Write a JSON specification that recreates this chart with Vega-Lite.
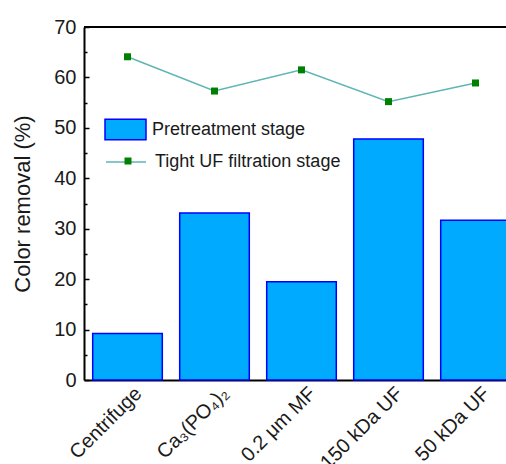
{
  "$schema": "https://vega.github.io/schema/vega-lite/v6.json",
  "width": 422,
  "height": 353,
  "autosize": "none",
  "padding": {"left": 84, "top": 27, "right": 0, "bottom": 84},
  "background": "white",
  "config": {
    "view": {"stroke": null},
    "font": "Liberation Sans"
  },
  "data": {
    "values": [
      {"process": "Centrifuge", "stage": "Pretreatment stage", "removal": 9.2},
      {"process": "Ca₃(PO₄)₂", "stage": "Pretreatment stage", "removal": 33.1},
      {"process": "0.2 μm MF", "stage": "Pretreatment stage", "removal": 19.5},
      {"process": "150 kDa UF", "stage": "Pretreatment stage", "removal": 47.8},
      {"process": "50 kDa UF", "stage": "Pretreatment stage", "removal": 31.7},
      {"process": "Centrifuge", "stage": "Tight UF filtration stage", "removal": 64.1},
      {"process": "Ca₃(PO₄)₂", "stage": "Tight UF filtration stage", "removal": 57.3},
      {"process": "0.2 μm MF", "stage": "Tight UF filtration stage", "removal": 61.5},
      {"process": "150 kDa UF", "stage": "Tight UF filtration stage", "removal": 55.2},
      {"process": "50 kDa UF", "stage": "Tight UF filtration stage", "removal": 58.9}
    ]
  },
  "encoding": {
    "x": {
      "field": "process",
      "type": "nominal",
      "sort": null,
      "scale": {"range": [0, 435], "paddingInner": 0.2, "paddingOuter": 0.1},
      "axis": {
        "title": null,
        "ticks": false,
        "labelAngle": -45,
        "labelFontSize": 20,
        "labelPadding": 3,
        "labelOffset": 4,
        "labelColor": "#1a1a1a",
        "domainColor": "black",
        "domainWidth": 2
      }
    },
    "y": {
      "field": "removal",
      "type": "quantitative",
      "scale": {"domain": [0, 70], "nice": false},
      "axis": {
        "title": "Color removal (%)",
        "values": [0, 5, 10, 15, 20, 25, 30, 35, 40, 45, 50, 55, 60, 65, 70],
        "labelExpr": "datum.value % 10 === 0 ? datum.label : ''",
        "tickSize": {"condition": {"test": "datum.value % 10 === 0", "value": -5}, "value": -3},
        "tickColor": "black",
        "tickWidth": 1.5,
        "domainColor": "black",
        "domainWidth": 2,
        "grid": false,
        "labelFontSize": 20,
        "labelPadding": 13,
        "labelColor": "#1a1a1a",
        "titleFontSize": 22,
        "titleFontWeight": "normal",
        "titleColor": "#1a1a1a",
        "titlePadding": 19
      }
    }
  },
  "layer": [
    {
      "transform": [{"filter": "datum.stage === 'Pretreatment stage'"}],
      "mark": {"type": "bar", "stroke": "#0000ff", "strokeWidth": 1.5},
      "encoding": {
        "fill": {
          "field": "stage",
          "type": "nominal",
          "scale": {"domain": ["Pretreatment stage"], "range": ["#00aaff"]},
          "legend": {
            "orient": "none",
            "legendX": 20,
            "legendY": 81,
            "title": null,
            "padding": 0,
            "symbolType": "M-1,-0.5H1V0.5H-1Z",
            "symbolSize": 1681,
            "symbolStrokeColor": "#0000ff",
            "symbolStrokeWidth": 1.5,
            "labelFontSize": 18,
            "labelColor": "#1a1a1a",
            "labelOffset": 5,
            "labelLimit": 0
          }
        }
      }
    },
    {
      "transform": [{"filter": "datum.stage === 'Tight UF filtration stage'"}],
      "mark": {"type": "line", "strokeWidth": 1.5},
      "encoding": {
        "order": {"value": null},
        "stroke": {
          "field": "stage",
          "type": "nominal",
          "scale": {"range": ["#5fb5b5"]},
          "legend": {
            "orient": "none",
            "legendX": 21,
            "legendY": 114,
            "title": null,
            "padding": 0,
            "symbolType": "M-1,0H1",
            "symbolSize": 1600,
            "symbolStrokeWidth": 1.5,
            "labelFontSize": 18,
            "labelColor": "#1a1a1a",
            "labelOffset": 8,
            "labelLimit": 0
          }
        }
      }
    },
    {
      "transform": [{"filter": "datum.stage === 'Tight UF filtration stage'"}],
      "mark": {"type": "point", "filled": true, "fill": "#008000", "opacity": 1, "size": 49},
      "encoding": {
        "shape": {
          "field": "stage",
          "type": "nominal",
          "scale": {"domain": ["Tight UF filtration stage"], "range": ["square"]},
          "legend": {
            "orient": "none",
            "legendX": 35,
            "legendY": 125,
            "title": null,
            "padding": 0,
            "symbolSize": 49,
            "symbolFillColor": "#008000",
            "symbolStrokeWidth": 0,
            "labelExpr": "''",
            "labelFontSize": 18
          }
        }
      }
    },
    {
      "data": {"values": [{"top": 70}]},
      "mark": {"type": "rule", "stroke": "black", "strokeWidth": 2},
      "encoding": {
        "x": null,
        "y": {"field": "top", "type": "quantitative"}
      }
    }
  ]
}
